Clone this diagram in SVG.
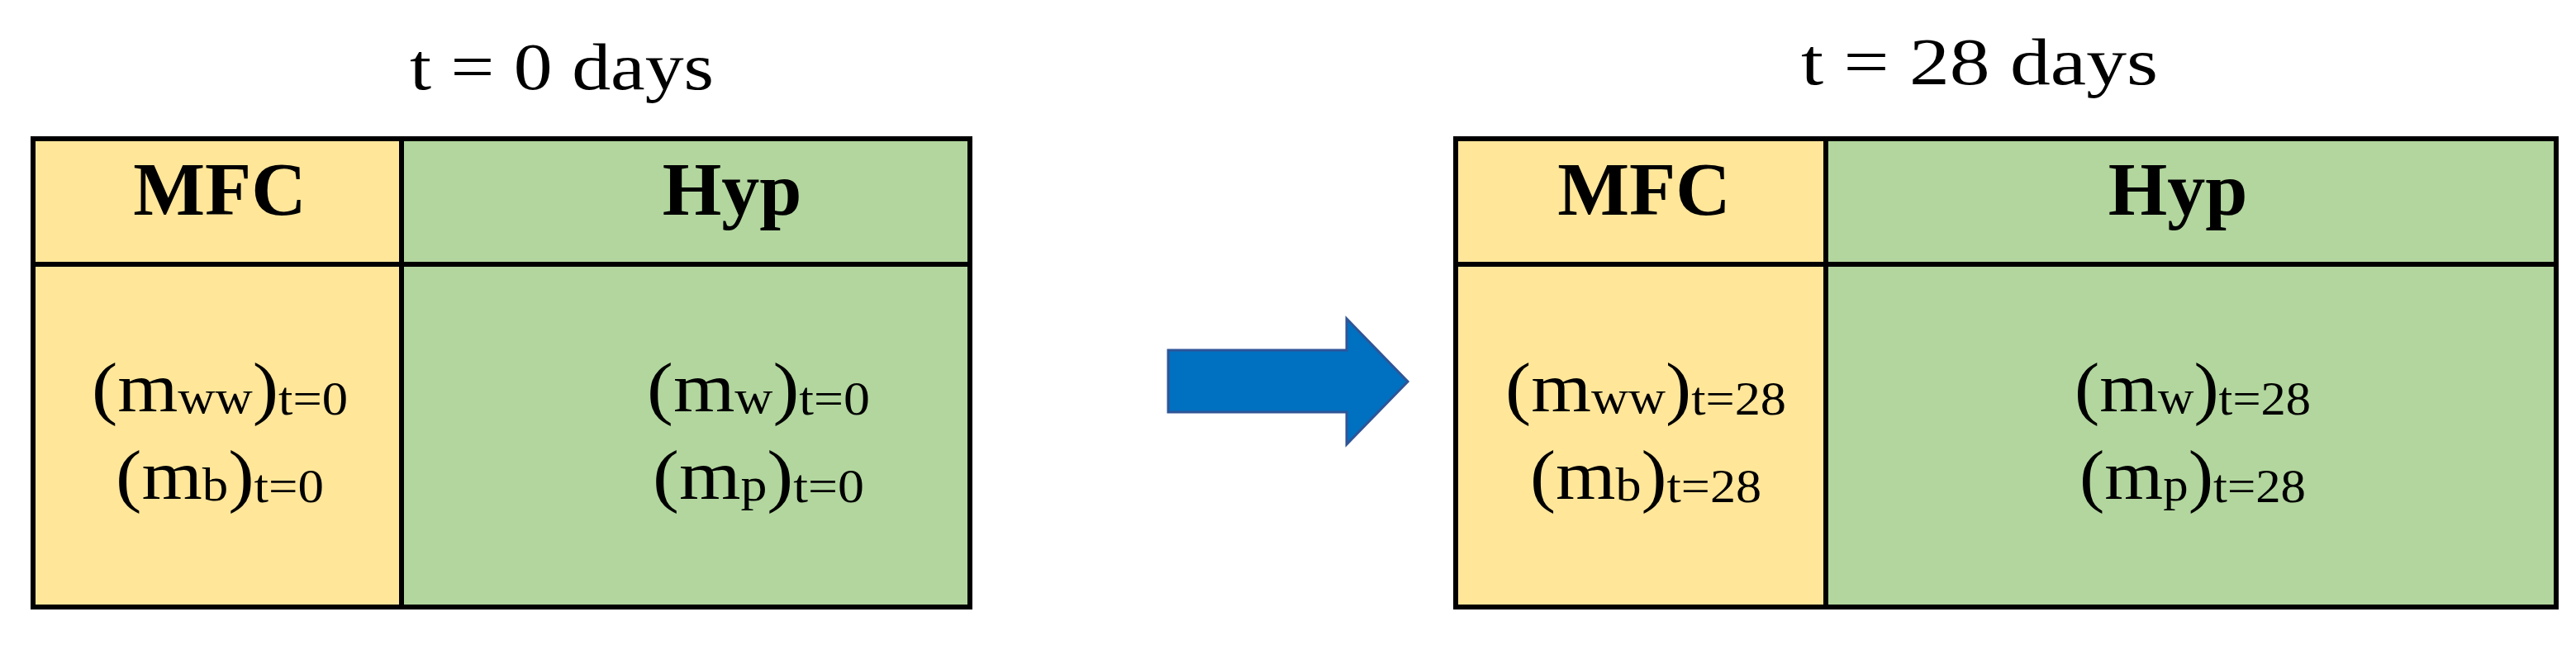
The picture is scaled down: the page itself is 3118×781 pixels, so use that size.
<svg xmlns="http://www.w3.org/2000/svg" width="3118" height="781" viewBox="0 0 3118 781">
<style>
.t{font-family:"Liberation Serif","Times New Roman",serif;fill:#000;text-anchor:middle}
.title{font-size:80px}
.hd{font-size:92px;font-weight:bold}
.bd{font-size:84px}
.sb{font-size:56px}
.mfc{fill:#FFE699;stroke:#000;stroke-width:6}
.hyp{fill:#B2D69E;stroke:#000;stroke-width:6}
</style>
<rect width="3118" height="781" fill="#fff"/>
<g id="title-t0"><text class="t title" x="680" y="108" textLength="368" lengthAdjust="spacingAndGlyphs">t = 0 days</text></g>
<g id="title-t28"><text class="t title" x="2396" y="102" textLength="432" lengthAdjust="spacingAndGlyphs">t = 28 days</text></g>
<g id="table-t0">
<rect class="mfc" x="40" y="168" width="446" height="567"/>
<rect class="hyp" x="486" y="168" width="688" height="567"/>
<line x1="40" y1="320" x2="1174" y2="320" stroke="#000" stroke-width="6"/>
<text class="t hd" x="266" y="260">MFC</text>
<text class="t hd" x="886" y="260">Hyp</text>
<text class="t bd" x="266" y="498" textLength="310" lengthAdjust="spacingAndGlyphs">(m<tspan class="sb" dy="2">ww</tspan><tspan dy="-2">)</tspan><tspan class="sb" dy="4">t=0</tspan></text>
<text class="t bd" x="266" y="604" textLength="252" lengthAdjust="spacingAndGlyphs">(m<tspan class="sb" dy="2">b</tspan><tspan dy="-2">)</tspan><tspan class="sb" dy="4">t=0</tspan></text>
<text class="t bd" x="918" y="498" textLength="270" lengthAdjust="spacingAndGlyphs">(m<tspan class="sb" dy="2">w</tspan><tspan dy="-2">)</tspan><tspan class="sb" dy="4">t=0</tspan></text>
<text class="t bd" x="918" y="604" textLength="256" lengthAdjust="spacingAndGlyphs">(m<tspan class="sb" dy="2">p</tspan><tspan dy="-2">)</tspan><tspan class="sb" dy="4">t=0</tspan></text>
</g>
<g id="table-t28">
<rect class="mfc" x="1762" y="168" width="448" height="567"/>
<rect class="hyp" x="2210" y="168" width="884" height="567"/>
<line x1="1762" y1="320" x2="3094" y2="320" stroke="#000" stroke-width="6"/>
<text class="t hd" x="1990" y="260">MFC</text>
<text class="t hd" x="2636" y="260">Hyp</text>
<text class="t bd" x="1992" y="498" textLength="340" lengthAdjust="spacingAndGlyphs">(m<tspan class="sb" dy="2">ww</tspan><tspan dy="-2">)</tspan><tspan class="sb" dy="4">t=28</tspan></text>
<text class="t bd" x="1992" y="604" textLength="280" lengthAdjust="spacingAndGlyphs">(m<tspan class="sb" dy="2">b</tspan><tspan dy="-2">)</tspan><tspan class="sb" dy="4">t=28</tspan></text>
<text class="t bd" x="2654" y="498" textLength="286" lengthAdjust="spacingAndGlyphs">(m<tspan class="sb" dy="2">w</tspan><tspan dy="-2">)</tspan><tspan class="sb" dy="4">t=28</tspan></text>
<text class="t bd" x="2654" y="604" textLength="274" lengthAdjust="spacingAndGlyphs">(m<tspan class="sb" dy="2">p</tspan><tspan dy="-2">)</tspan><tspan class="sb" dy="4">t=28</tspan></text>
</g>
<g id="connectors">
<polygon points="1414,424 1630,424 1630,386 1704,462 1630,538 1630,499 1414,499" fill="#0070C0" stroke="#2F5597" stroke-width="3"/>
</g>
</svg>
